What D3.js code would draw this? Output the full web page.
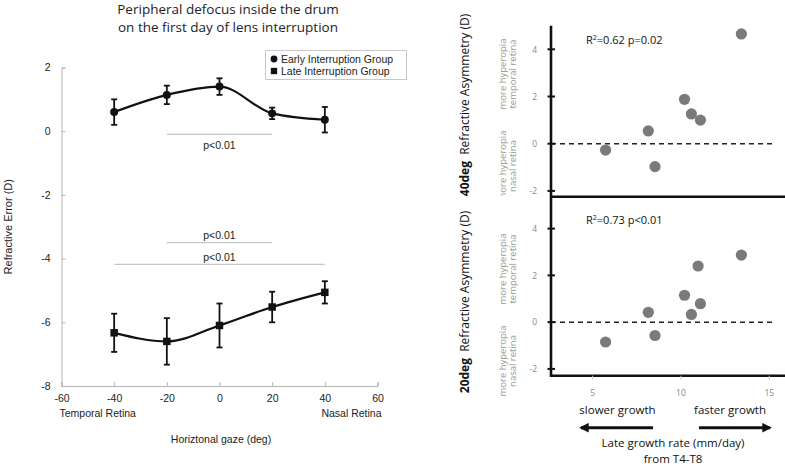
<!DOCTYPE html>
<html><head><meta charset="utf-8">
<script src="https://cdn.jsdelivr.net/npm/d3@7"></script>
<style>body{margin:0;background:#fff}svg{display:block}</style>
</head><body>
<svg id="c" width="785" height="466"></svg>
<script>
// ---- Left panel data ----
const gaze = [-40, -20, 0, 20, 40];
const earlyMean = [0.6, 1.14, 1.4, 0.56, 0.36];
const earlyErr = [0.4, 0.29, 0.26, 0.18, 0.4];
const lateMean = [-6.33, -6.6, -6.1, -5.52, -5.06];
const lateErr = [0.6, 0.73, 0.69, 0.48, 0.35];
const leftXTicks = [-60, -40, -20, 0, 20, 40, 60];
const leftYTicks = [-8, -6, -4, -2, 0, 2];
const sigBars = [
  {from: -20, to: 20, y: -0.1, label: "p<0.01", above: false},
  {from: -20, to: 20, y: -3.5, label: "p<0.01", above: true},
  {from: -40, to: 40, y: -4.18, label: "p<0.01", above: true}
];
// ---- Right panel data ----
const growth40 = [5.76, 8.18, 8.56, 10.23, 10.62, 11.13, 13.45];
const asym40 = [-0.27, 0.54, -0.97, 1.88, 1.26, 1.0, 4.65];
const growth20 = [5.76, 8.18, 8.56, 10.23, 10.62, 11.0, 11.13, 13.45];
const asym20 = [-0.85, 0.42, -0.57, 1.15, 0.33, 2.4, 0.79, 2.87];
const rightXTicks = [5, 10, 15];
const rightYTicks = [-2, 0, 2, 4];

const svg = d3.select("#c");
const ARIAL = "'Liberation Sans', Arial, sans-serif";
const SANS = "'Open Sans', sans-serif";
const fmt = d => String(d);

// ================= LEFT PANEL =================
const x = d3.scaleLinear().domain([-60, 60]).range([61.5, 377.5]);
const y = d3.scaleLinear().domain([-8, 2]).range([386, 67.5]);

svg.append("text").attr("x", 228).attr("y", 13.5).attr("text-anchor", "middle")
  .attr("font-family", SANS).attr("font-size", 13.5).attr("fill", "#222")
  .text("Peripheral defocus inside the drum");
svg.append("text").attr("x", 228).attr("y", 32).attr("text-anchor", "middle")
  .attr("font-family", SANS).attr("font-size", 13.5).attr("fill", "#222")
  .text("on the first day of lens interruption");

// axes
const gx = svg.append("g").attr("transform", `translate(0,${y(-8)})`)
  .call(d3.axisBottom(x).tickValues(leftXTicks).tickSize(-4).tickPadding(7).tickFormat(fmt));
const gy = svg.append("g").attr("transform", `translate(${x(-60)},0)`)
  .call(d3.axisLeft(y).tickValues(leftYTicks).tickSize(-4).tickPadding(7).tickFormat(fmt));
[gx, gy].forEach(g => {
  g.select(".domain").attr("stroke", "#b5b5b5");
  g.selectAll(".tick line").attr("stroke", "#b5b5b5");
  g.selectAll(".tick text").attr("font-family", ARIAL).attr("font-size", 10.5).attr("fill", "#222");
});
gx.selectAll(".tick text").attr("dy", "0.9em");
gy.selectAll(".tick text").attr("dx", "-4");

svg.append("text").attr("x", x(-60) - 2).attr("y", 417).attr("font-family", ARIAL)
  .attr("font-size", 10.5).attr("fill", "#222").text("Temporal Retina");
svg.append("text").attr("x", x(60) + 4).attr("y", 417).attr("text-anchor", "end").attr("font-family", ARIAL)
  .attr("font-size", 10.5).attr("fill", "#222").text("Nasal Retina");
svg.append("text").attr("x", 221).attr("y", 443).attr("text-anchor", "middle").attr("font-family", ARIAL)
  .attr("font-size", 10.5).attr("fill", "#222").text("Horiztonal gaze (deg)");
svg.append("text").attr("transform", `translate(12,${y(-3)}) rotate(-90)`).attr("text-anchor", "middle")
  .attr("font-family", ARIAL).attr("font-size", 11).attr("fill", "#222").text("Refractive Error (D)");

// significance bars
sigBars.forEach(s => {
  svg.append("line").attr("x1", x(s.from)).attr("x2", x(s.to)).attr("y1", y(s.y)).attr("y2", y(s.y))
    .attr("stroke", "#c8c8c8").attr("stroke-width", 1.2);
  svg.append("text").attr("x", x((s.from + s.to) / 2)).attr("y", y(s.y) + (s.above ? -3.5 : 14.5))
    .attr("text-anchor", "middle").attr("font-family", ARIAL).attr("font-size", 10.5).attr("fill", "#222")
    .text(s.label);
});

function drawSeries(means, errs, shape) {
  const pts = gaze.map((g, i) => ({g, m: means[i], e: errs[i]}));
  svg.append("path").datum(pts)
    .attr("d", d3.line().x(d => x(d.g)).y(d => y(d.m)).curve(d3.curveMonotoneX))
    .attr("fill", "none").attr("stroke", "#111").attr("stroke-width", 2.2);
  const eb = svg.append("g").attr("stroke", "#111").attr("stroke-width", 1.8);
  pts.forEach(d => {
    eb.append("line").attr("x1", x(d.g)).attr("x2", x(d.g)).attr("y1", y(d.m - d.e)).attr("y2", y(d.m + d.e));
    [d.m - d.e, d.m + d.e].forEach(v =>
      eb.append("line").attr("x1", x(d.g) - 3).attr("x2", x(d.g) + 3).attr("y1", y(v)).attr("y2", y(v)));
  });
  const sym = d3.symbol().type(shape === "circle" ? d3.symbolCircle : d3.symbolSquare)
    .size(shape === "circle" ? 50 : 56);
  svg.append("g").selectAll("path").data(pts).join("path")
    .attr("transform", d => `translate(${x(d.g)},${y(d.m)})`).attr("d", sym).attr("fill", "#111");
}
drawSeries(earlyMean, earlyErr, "circle");
drawSeries(lateMean, lateErr, "square");

// legend
const lg = svg.append("g");
lg.append("rect").attr("x", 265.5).attr("y", 50.5).attr("width", 141).attr("height", 29)
  .attr("fill", "#fff").attr("stroke", "#c8c8c8");
lg.append("path").attr("transform", "translate(274,59)").attr("d", d3.symbol().type(d3.symbolCircle).size(36)()).attr("fill", "#111");
lg.append("path").attr("transform", "translate(274,71)").attr("d", d3.symbol().type(d3.symbolSquare).size(40)()).attr("fill", "#111");
lg.append("text").attr("x", 281).attr("y", 63).attr("font-family", ARIAL).attr("font-size", 10.5).attr("fill", "#222").text("Early Interruption Group");
lg.append("text").attr("x", 281).attr("y", 75).attr("font-family", ARIAL).attr("font-size", 10.5).attr("fill", "#222").text("Late Interruption Group");

// ================= RIGHT PANELS =================
const rx = d3.scaleLinear().domain([2.67, 15.92]).range([551, 785]);
const yTop = d3.scaleLinear().domain([-2.25, 5]).range([196.8, 25.7]);
const yBot = d3.scaleLinear().domain([-2.29, 5.36]).range([375.7, 196.8]);

svg.append("defs").append("clipPath").attr("id", "clipTop")
  .append("rect").attr("x", 0).attr("y", 0).attr("width", 785).attr("height", 196);

function panel(ys, xs, vals, rLabel, deg, centerY, tempY, nasY, clip) {
  svg.append("line").attr("x1", rx.range()[0]).attr("x2", 772).attr("y1", ys(0)).attr("y2", ys(0))
    .attr("stroke", "#222").attr("stroke-width", 1.5).attr("stroke-dasharray", "5,4");
  const g = svg.append("g").attr("transform", `translate(${rx.range()[0]},0)`)
    .call(d3.axisLeft(ys).tickValues(rightYTicks).tickSize(0).tickPadding(14).tickFormat(fmt));
  g.select(".domain").remove();
  g.selectAll(".tick text").attr("font-family", SANS).attr("font-size", 8.5).attr("fill", "#888");
  rightYTicks.forEach(t => svg.append("line").attr("x1", rx.range()[0] - 3.5).attr("x2", rx.range()[0] + 4)
    .attr("y1", ys(t)).attr("y2", ys(t)).attr("stroke", "#111").attr("stroke-width", 2));
  svg.append("g").selectAll("circle").data(xs.map((v, i) => [v, vals[i]])).join("circle")
    .attr("cx", d => rx(d[0])).attr("cy", d => ys(d[1])).attr("r", 5.6).attr("fill", "#7a7a7a");
  const t = svg.append("text").attr("x", 586).attr("y", ys(4) - 5).attr("font-family", SANS)
    .attr("font-size", 11).attr("fill", "#111");
  t.append("tspan").text("R");
  t.append("tspan").attr("font-size", 7).attr("dy", -4).text("2");
  t.append("tspan").attr("dy", 4).text(rLabel);
  const yt = svg.append("text").attr("transform", `translate(469,${centerY}) rotate(-90)`).attr("text-anchor", "middle")
    .attr("font-family", SANS).attr("font-size", 12).attr("fill", "#111");
  yt.append("tspan").attr("font-weight", "bold").text(deg);
  yt.append("tspan").text("\u00a0 Refractive Asymmetry (D)");
  const notes = svg.append("g");
  if (clip) notes.attr("clip-path", "url(#clipTop)");
  [["more hyperopia", "temporal retina", tempY], ["more hyperopia", "nasal retina", nasY]].forEach(([a, b, cy]) => {
    const tt = notes.append("text").attr("transform", `translate(506,${cy}) rotate(-90)`).attr("text-anchor", "middle")
      .attr("font-family", SANS).attr("font-size", 9.5).attr("fill", "#999");
    tt.append("tspan").attr("x", 0).attr("y", 0).text(a);
    tt.append("tspan").attr("x", 0).attr("y", 10).text(b);
  });
}
panel(yTop, growth40, asym40, "=0.62 p=0.02", "40deg", 105, 74, 166, true);
panel(yBot, growth20, asym20, "=0.73 p<0.01", "20deg", 302, 269, 361, false);

// axis frames (thick)
svg.append("line").attr("x1", 551).attr("x2", 551).attr("y1", 25.7).attr("y2", 376.7).attr("stroke", "#111").attr("stroke-width", 2.6);
svg.append("line").attr("x1", 550).attr("x2", 785).attr("y1", 196.8).attr("y2", 196.8).attr("stroke", "#111").attr("stroke-width", 2.6);
svg.append("line").attr("x1", 550).attr("x2", 785).attr("y1", 375.7).attr("y2", 375.7).attr("stroke", "#111").attr("stroke-width", 2.6);

const bx = svg.append("g").attr("transform", "translate(0,375.7)")
  .call(d3.axisBottom(rx).tickValues(rightXTicks).tickSize(4).tickPadding(10).tickFormat(fmt));
bx.select(".domain").remove();
bx.selectAll(".tick line").attr("stroke", "#ccc");
bx.selectAll(".tick text").attr("font-family", SANS).attr("font-size", 8.5).attr("fill", "#888");

svg.append("text").attr("x", 617.5).attr("y", 414).attr("text-anchor", "middle").attr("font-family", SANS)
  .attr("font-size", 11.5).attr("fill", "#111").text("slower growth");
svg.append("text").attr("x", 730).attr("y", 414).attr("text-anchor", "middle").attr("font-family", SANS)
  .attr("font-size", 11.5).attr("fill", "#111").text("faster growth");

const defs = svg.append("defs");
defs.append("marker").attr("id", "ah").attr("viewBox", "0 0 10 10").attr("refX", 8).attr("refY", 5)
  .attr("markerWidth", 3.2).attr("markerHeight", 3.2).attr("orient", "auto-start-reverse")
  .append("path").attr("d", "M0,0 L10,5 L0,10 z").attr("fill", "#111");
svg.append("line").attr("x1", 653).attr("x2", 581).attr("y1", 427.7).attr("y2", 427.7)
  .attr("stroke", "#111").attr("stroke-width", 3).attr("marker-end", "url(#ah)");
svg.append("line").attr("x1", 699).attr("x2", 770).attr("y1", 427.7).attr("y2", 427.7)
  .attr("stroke", "#111").attr("stroke-width", 3).attr("marker-end", "url(#ah)");

svg.append("text").attr("x", 673).attr("y", 446.5).attr("text-anchor", "middle").attr("font-family", SANS)
  .attr("font-size", 11.5).attr("fill", "#111").text("Late growth rate (mm/day)");
svg.append("text").attr("x", 673).attr("y", 462.5).attr("text-anchor", "middle").attr("font-family", SANS)
  .attr("font-size", 11.5).attr("fill", "#111").text("from T4-T8");
</script>
</body></html>
